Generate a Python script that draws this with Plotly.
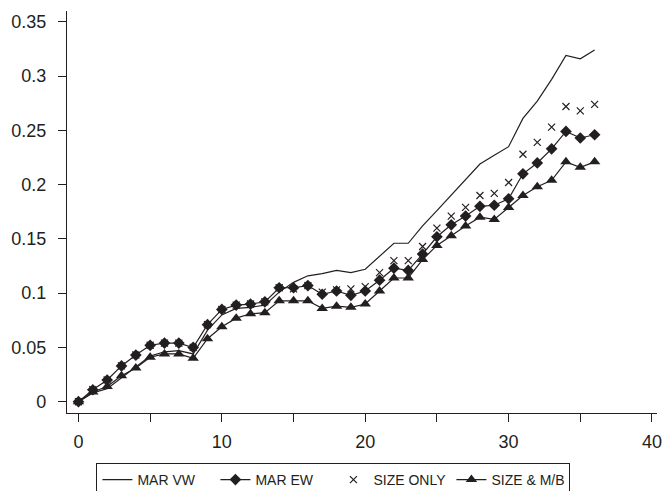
import plotly.graph_objects as go

months = list(range(0, 37))

mar_vw = [0.000, 0.008, 0.012, 0.022, 0.032, 0.042, 0.046, 0.047, 0.044, 0.066,
          0.080, 0.086, 0.087, 0.089, 0.101, 0.110, 0.116, 0.118, 0.121, 0.119,
          0.122, 0.134, 0.146, 0.146, 0.162, 0.176, 0.190, 0.204, 0.219, 0.227,
          0.235, 0.261, 0.277, 0.297, 0.319, 0.316, 0.324]

mar_ew = [0.000, 0.011, 0.020, 0.033, 0.043, 0.052, 0.054, 0.054, 0.050, 0.071,
          0.085, 0.089, 0.090, 0.092, 0.105, 0.105, 0.107, 0.099, 0.102, 0.098,
          0.102, 0.112, 0.123, 0.121, 0.136, 0.152, 0.163, 0.171, 0.180, 0.181,
          0.187, 0.210, 0.220, 0.233, 0.249, 0.243, 0.246]

size_only = [0.000, 0.011, 0.020, 0.033, 0.043, 0.052, 0.054, 0.054, 0.050, 0.071,
             0.085, 0.089, 0.090, 0.092, 0.105, 0.104, 0.107, 0.101, 0.103, 0.104,
             0.106, 0.119, 0.130, 0.130, 0.143, 0.160, 0.171, 0.179, 0.190, 0.192,
             0.202, 0.228, 0.239, 0.253, 0.272, 0.268, 0.274]

size_mb = [0.000, 0.009, 0.014, 0.024, 0.031, 0.041, 0.044, 0.044, 0.040, 0.058,
           0.069, 0.077, 0.081, 0.082, 0.093, 0.093, 0.093, 0.086, 0.088, 0.087,
           0.090, 0.102, 0.114, 0.114, 0.131, 0.144, 0.153, 0.162, 0.170, 0.168,
           0.179, 0.190, 0.198, 0.204, 0.221, 0.216, 0.221]

x_tickvals = [0, 5, 10, 15, 20, 25, 30, 35, 40]
x_ticktext = ["0", "", "10", "", "20", "", "30", "", "40"]
y_tickvals = [0, 0.05, 0.1, 0.15, 0.2, 0.25, 0.3, 0.35]
y_ticktext = ["0", "0.05", "0.1", "0.15", "0.2", "0.25", "0.3", "0.35"]

ink = "#231f20"

fig = go.Figure()
fig.add_trace(go.Scatter(x=months, y=mar_vw, name="MAR VW", mode="lines",
                         line=dict(color=ink, width=1.2)))
fig.add_trace(go.Scatter(x=months, y=mar_ew, name="MAR EW", mode="lines+markers",
                         line=dict(color=ink, width=1.2),
                         marker=dict(symbol="diamond", size=9, color=ink)))
fig.add_trace(go.Scatter(x=months, y=size_only, name="SIZE ONLY", mode="markers",
                         marker=dict(symbol="x-thin-open", size=7, color=ink,
                                     line=dict(color=ink, width=1.2))))
fig.add_trace(go.Scatter(x=months, y=size_mb, name="SIZE & M/B", mode="lines+markers",
                         line=dict(color=ink, width=1.2),
                         marker=dict(symbol="triangle-up", size=10, color=ink)))

fig.update_layout(
    width=665, height=491,
    margin=dict(l=67, r=8, t=11, b=78),
    paper_bgcolor="white", plot_bgcolor="white",
    font=dict(family="Liberation Sans, Arial, sans-serif", color=ink),
    showlegend=True,
    legend=dict(orientation="h", x=0.145, y=0.057, xanchor="left", yanchor="top",
                xref="container", yref="container",
                bordercolor=ink, borderwidth=1, bgcolor="white",
                font=dict(size=14), itemwidth=30, tracegroupgap=0,
                entrywidth=73, entrywidthmode="pixels"),
)
fig.update_xaxes(range=[-0.8, 40.35], tickvals=x_tickvals, ticktext=x_ticktext,
                 automargin=False,
                 showgrid=False, zeroline=False, showline=True, linecolor=ink,
                 linewidth=1.2, ticks="outside", ticklen=8, tickcolor=ink,
                 tickfont=dict(size=18), ticklabelstandoff=4)
fig.update_yaxes(range=[-0.0104, 0.36], tickvals=y_tickvals, ticktext=y_ticktext,
                 automargin=False,
                 showgrid=False, zeroline=False, showline=True, linecolor=ink,
                 linewidth=1.2, ticks="outside", ticklen=8, tickcolor=ink,
                 tickfont=dict(size=18), ticklabelstandoff=8)

fig.write_html("out.html", config={"displayModeBar": False},
               post_script="document.body.style.margin='0px';document.body.style.overflow='hidden';")
